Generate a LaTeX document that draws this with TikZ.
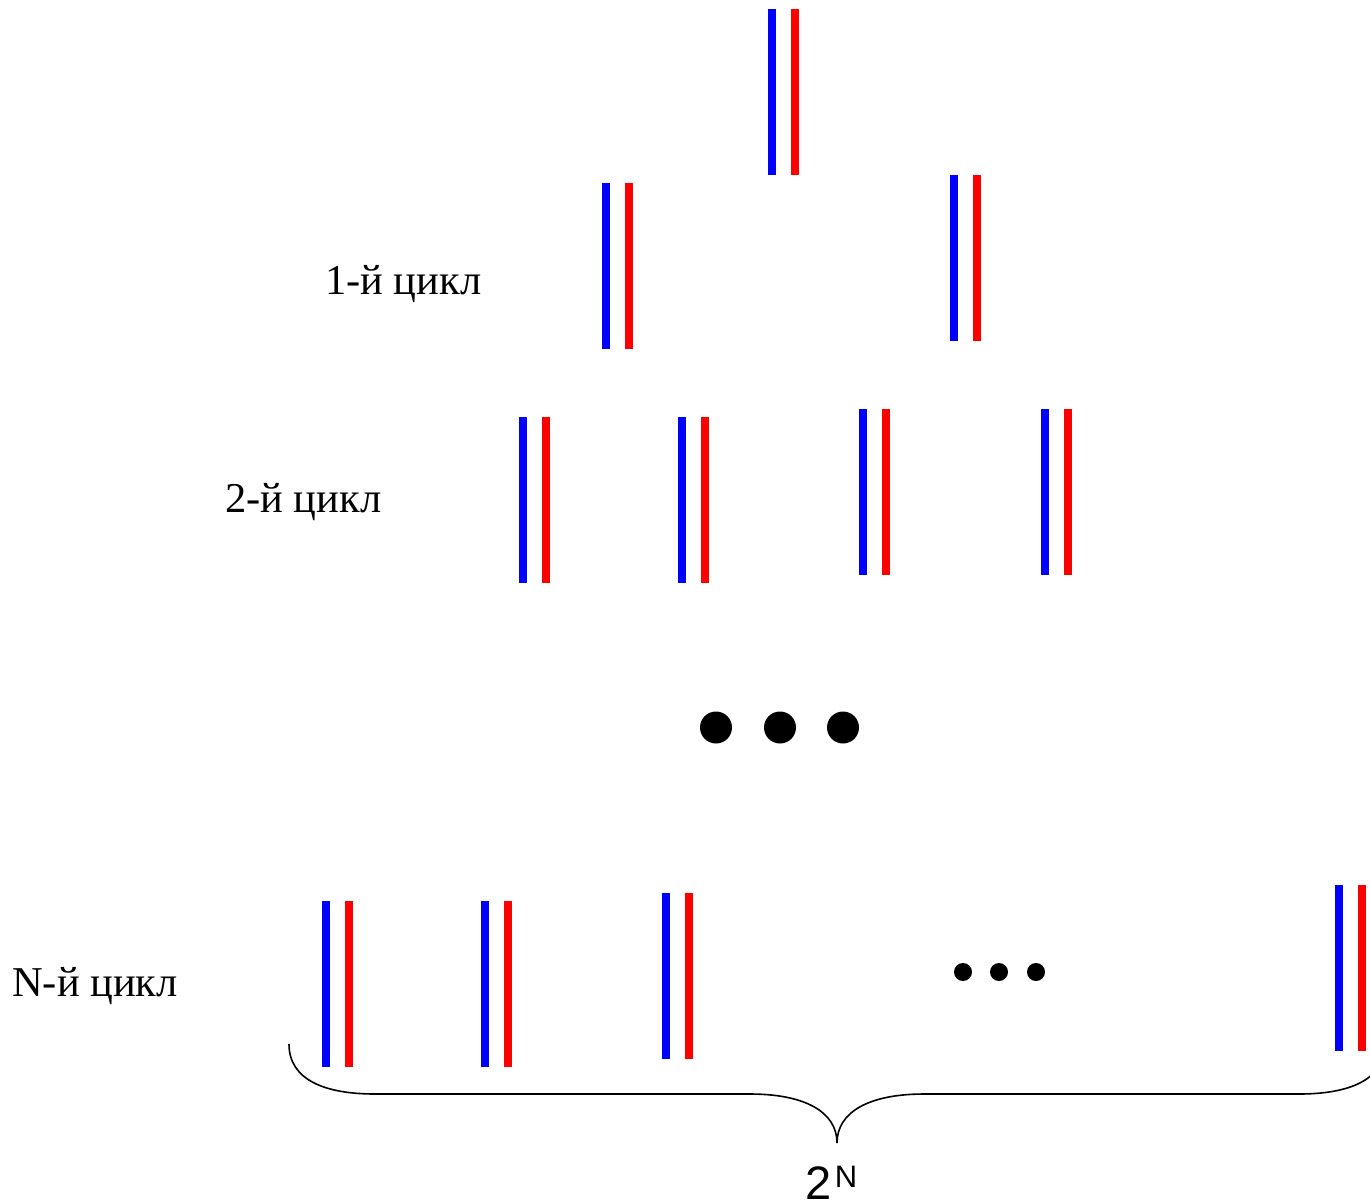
\documentclass[tikz,border=0pt]{standalone}
\usepackage{fontspec}
\setmainfont{Liberation Serif}
\newfontfamily\labsans{Liberation Sans}
\tikzset{
  bluebar/.style={draw=blue, line width=8.5pt, line cap=butt},
  redbar/.style={draw=red, line width=8.5pt, line cap=butt},
  cyclelabel/.style={inner sep=0pt, anchor=base west, font=\fontsize{42.5}{46}\selectfont},
  bigdot/.style={fill=black, draw=none},
  bracepath/.style={draw=black, line width=1.6pt}
}
\begin{document}
\begin{tikzpicture}[x=1pt, y=-1pt]
\useasboundingbox (0,0) rectangle (1370,1202);
\clip (0,0) rectangle (1370,1202);
% pairs: blue x, red x, top y
\foreach \bx/\rx/\ty in {772/795/9,
  606/629/183, 954/977/175,
  523/546/417, 682/705/417, 863/886/409, 1045/1068/409,
  326/349/901, 485/508/901, 666/689/893, 1339/1362/885}{
  \draw[bluebar] (\bx,\ty) -- ++(0,166);
  \draw[redbar] (\rx,\ty) -- ++(0,166);
}
% big dots
\foreach \cx in {716,780,843}{
  \fill[bigdot] (\cx,727.5) circle (16);
}
% small dots
\foreach \cx in {963,999,1036}{
  \fill[bigdot] (\cx,972) circle (9);
}
% labels
\node[cyclelabel] (c1) at (325,294) {1-й цикл};
\node[cyclelabel] (c2) at (225,512) {2-й цикл};
\node[cyclelabel] (cN) at (12,996) {N-й цикл};
% brace
\coordinate (bl) at (289,1044);
\coordinate (bt) at (837,1143);
\coordinate (br) at (1385,1044);
\draw[bracepath] (bl) .. controls (289,1080) and (325,1094) .. (375,1094)
  -- (750,1094) .. controls (805,1094) and (837,1112) .. (bt)
  .. controls (837,1112) and (869,1094) .. (924,1094)
  -- (1299,1094) .. controls (1349,1094) and (1385,1080) .. (br);
\node[inner sep=0pt, text depth=0pt, anchor=base west, font=\labsans\fontsize{47}{50}\selectfont] (pw) at (805,1199)
  {2\kern3.5pt\raisebox{12pt}{\labsans\fontsize{31}{33}\selectfont N}};
\end{tikzpicture}
\end{document}
